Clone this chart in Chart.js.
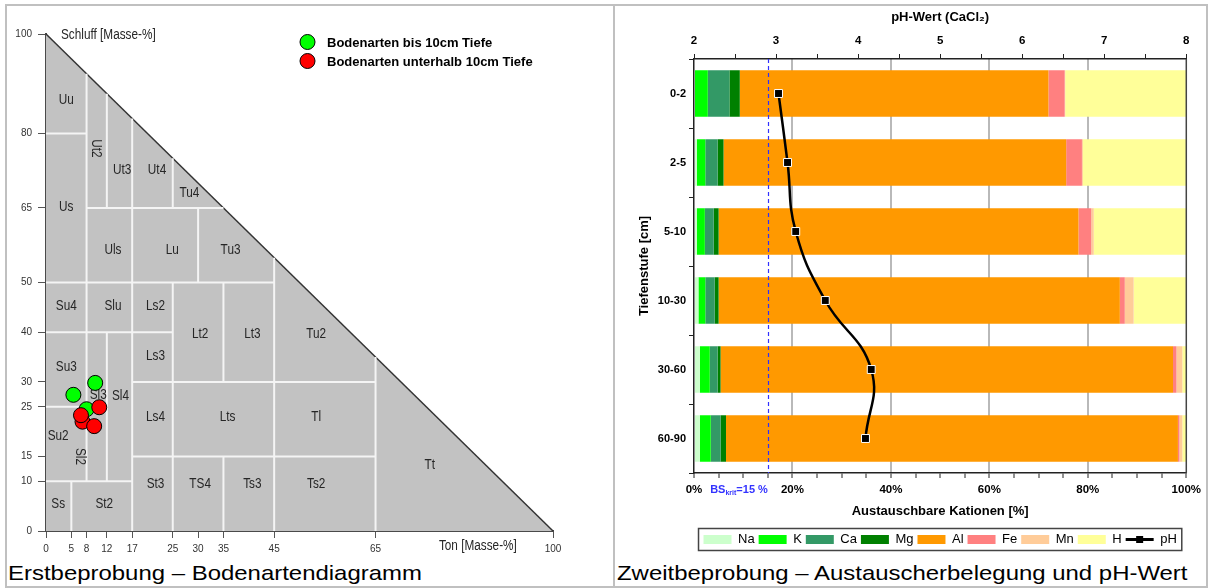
<!DOCTYPE html>
<html lang="de">
<head>
<meta charset="utf-8">
<title>Bodenarten und Austauscherbelegung</title>
<script src="https://cdn.jsdelivr.net/npm/chart.js@4.4.1/dist/chart.umd.min.js"></script>
<style>
  html, body { margin: 0; padding: 0; background: #fff; }
  #page { position: relative; width: 1211px; height: 588px; overflow: hidden; font-family: "Liberation Sans", Arial, sans-serif; }
  #frame { position: absolute; left: 5px; top: 4px; width: 1199px; height: 580px; border: 2px solid #c0c0c0; }
  #divider { position: absolute; left: 613px; top: 4px; width: 2px; height: 584px; background: #c0c0c0; }
  canvas { position: absolute; }
  #soil { left: 7px; top: 6px; }
  #cations { left: 615px; top: 6px; }
  .caption { position: absolute; top: 561px; font-size: 21px; line-height: 24px; color: #000; white-space: nowrap; transform: scaleX(1.14); transform-origin: 0 0; }
</style>
</head>
<body>
<div id="page">
  <div id="frame"></div>
  <div id="divider"></div>
  <canvas id="soil" width="604" height="552"></canvas>
  <canvas id="cations" width="591" height="550"></canvas>
  <div class="caption" style="left:8px">Erstbeprobung – Bodenartendiagramm</div>
  <div class="caption" style="left:617px">Zweitbeprobung – Austauscherbelegung und pH-Wert</div>
</div>
<script>
// ---- left: Bodenartendiagramm (Ton / Schluff in Masse-%) ----
const tonTicks = [0, 5, 8, 12, 17, 25, 30, 35, 45, 65, 100];
const schluffTicks = [0, 10, 15, 25, 30, 40, 50, 65, 80, 100];
const triangleEdge = [{ x: 0, y: 100 }, { x: 100, y: 0 }];
// class boundaries: [ton1, schluff1, ton2, schluff2]
const classLines = [
  [0, 80, 8, 80], [8, 65, 35, 65], [0, 50, 45, 50], [0, 40, 25, 40],
  [17, 30, 65, 30], [0, 25, 8, 25], [17, 15, 65, 15], [0, 10, 17, 10],
  [5, 0, 5, 10], [8, 10, 8, 92], [12, 10, 12, 40], [12, 65, 12, 88],
  [17, 0, 17, 83], [25, 0, 25, 50], [25, 65, 25, 75], [30, 50, 30, 65],
  [35, 0, 35, 15], [35, 30, 35, 50], [45, 0, 45, 55], [65, 0, 65, 35]
];
// class names: [name, ton, schluff, rotated]
const classLabels = [
  ['Uu', 4, 86.7], ['Ut2', 10, 77, true], ['Ut3', 15, 72.6], ['Ut4', 21.9, 72.6], ['Tu4', 28.3, 68],
  ['Us', 4, 65.3], ['Uls', 13.2, 56.5], ['Lu', 24.9, 56.5], ['Tu3', 36.4, 56.5],
  ['Su4', 4, 45.3], ['Slu', 13.2, 45.3], ['Ls2', 21.6, 45.3],
  ['Lt2', 30.4, 39.6], ['Lt3', 40.7, 39.6], ['Tu2', 53.3, 39.6], ['Ls3', 21.6, 35.2], ['Su3', 4, 33],
  ['Sl3', 10.3, 27.4], ['Sl4', 14.7, 27.2], ['Ls4', 21.6, 23], ['Lts', 35.8, 23], ['Tl', 53.3, 23],
  ['Su2', 2.4, 19.1], ['Sl2', 6.7, 15, true], ['Tt', 75.7, 13.3],
  ['St3', 21.6, 9.5], ['TS4', 30.4, 9.5], ['Ts3', 40.7, 9.5], ['Ts2', 53.3, 9.5],
  ['Ss', 2.4, 5.4], ['St2', 11.5, 5.4]
];
const topsoilPoints = [{ x: 5.4, y: 27.4 }, { x: 9.7, y: 29.8 }, { x: 8.0, y: 24.5 }];
const subsoilPoints = [{ x: 7.2, y: 22.0 }, { x: 9.5, y: 21.1 }, { x: 10.5, y: 24.9 }, { x: 6.9, y: 23.3 }];

// ---- right: Austauscherbelegung [%] und pH-Wert ----
const depths = ['0-2', '2-5', '5-10', '10-30', '30-60', '60-90'];
const na = [0.2, 0.6, 0.6, 0.9, 1.2, 1.2];
const k  = [2.6, 1.7, 1.6, 1.4, 2.0, 2.2];
const ca = [4.4, 2.5, 1.8, 1.9, 1.6, 2.0];
const mg = [2.1, 1.2, 1.0, 0.8, 0.6, 1.1];
const al = [62.7, 69.6, 73.1, 81.5, 91.9, 91.8];
const fe = [3.3, 3.2, 2.6, 1.0, 0.7, 0.3];
const mn = [0.1, 0.2, 0.5, 1.8, 1.2, 0.6];
const h  = [24.6, 21.0, 18.8, 10.7, 0.8, 0.8];
const ph = [3.03, 3.14, 3.24, 3.60, 4.16, 4.09];
const bsKrit = 15;

const cationNames = ['Na', 'K', 'Ca', 'Mg', 'Al', 'Fe', 'Mn', 'H'];
const cationColors = ['#ccffcc', '#00ff00', '#339966', '#008000', '#ff9900', '#ff8080', '#ffcc99', '#ffff99'];
const cationSeries = [na, k, ca, mg, al, fe, mn, h];

const FONT = '"Liberation Sans", Arial, sans-serif';
Chart.defaults.font.family = FONT;
Chart.defaults.color = '#000';

function fixedTicks(values) {
  return function (scale) {
    scale.ticks = values.map(function (v) { return { value: v }; });
  };
}

// condensed look for the triangle texts
function narrowText(ctx, text, x, y, rotate, align) {
  ctx.save();
  ctx.translate(x, y);
  if (rotate) ctx.rotate(Math.PI / 2);
  ctx.scale(0.76, 1);
  ctx.font = '15.5px ' + FONT;
  ctx.fillStyle = '#262626';
  ctx.textAlign = align || 'center';
  ctx.textBaseline = 'middle';
  ctx.fillText(text, 0, 0);
  ctx.restore();
}

const boundaryPoints = [];
classLines.forEach(function (s) {
  boundaryPoints.push({ x: s[0], y: s[1] }, { x: s[2], y: s[3] }, { x: s[2], y: null });
});

const soilDecor = {
  id: 'soilDecor',
  afterDatasetDraw(chart, args) {
    if (args.index !== 1) return;
    const xs = chart.scales.x, ys = chart.scales.y, ctx = chart.ctx;
    classLabels.forEach(function (c) {
      narrowText(ctx, c[0], xs.getPixelForValue(c[1]), ys.getPixelForValue(c[2]), c[3]);
    });
  },
  afterDraw(chart) {
    const xs = chart.scales.x, ys = chart.scales.y, ctx = chart.ctx;
    narrowText(ctx, 'Schluff [Masse-%]', xs.getPixelForValue(0) + 15, ys.getPixelForValue(100) + 1, false, 'left');
    narrowText(ctx, 'Ton [Masse-%]', xs.getPixelForValue(77.5), chart.chartArea.bottom + 15, false, 'left');
    // legend of the sample points
    [2, 3].forEach(function (di, row) {
      const ds = chart.data.datasets[di];
      const y = 36 + row * 19;
      ctx.save();
      ctx.beginPath();
      ctx.arc(300.5, y, 7.5, 0, Math.PI * 2);
      ctx.fillStyle = ds.backgroundColor;
      ctx.fill();
      ctx.lineWidth = 1;
      ctx.strokeStyle = '#000';
      ctx.stroke();
      ctx.font = 'bold 13px ' + FONT;
      ctx.fillStyle = '#000';
      ctx.textBaseline = 'middle';
      ctx.fillText(ds.label, 320, y + 1);
      ctx.restore();
    });
  }
};

new Chart(document.getElementById('soil'), {
  type: 'scatter',
  data: {
    datasets: [
      { type: 'line', label: 'Dreieck', data: triangleEdge, fill: 'origin', backgroundColor: '#c2c2c2',
        borderColor: '#333', borderWidth: 1.5, pointRadius: 0, order: 3, clip: false },
      { type: 'line', label: 'Grenzen', data: boundaryPoints, fill: false, spanGaps: false,
        borderColor: '#f4f4f4', borderWidth: 2, pointRadius: 0, order: 2 },
      { label: 'Bodenarten bis 10cm Tiefe', data: topsoilPoints, backgroundColor: '#00ff00',
        borderColor: '#000', borderWidth: 1, pointRadius: 7.5, order: 1, clip: false },
      { label: 'Bodenarten unterhalb 10cm Tiefe', data: subsoilPoints, backgroundColor: '#ff0000',
        borderColor: '#000', borderWidth: 1, pointRadius: 7.5, order: 0, clip: false }
    ]
  },
  options: {
    responsive: false,
    animation: false,
    events: [],
    layout: { padding: { left: 0, top: 28, right: 58, bottom: 0 } },
    scales: {
      x: {
        type: 'linear', min: 0, max: 100, z: 1,
        afterBuildTicks: fixedTicks(tonTicks),
        afterFit(s) { s.height = 27; },
        ticks: { autoSkip: false, maxRotation: 0, padding: 5, color: '#333', font: { size: 10 },
          callback: function (v) { return String(v); } },
        grid: { drawOnChartArea: false, tickLength: 7, tickColor: '#555' },
        border: { color: '#4a4a4a', width: 2 }
      },
      y: {
        type: 'linear', min: 0, max: 100, z: 1,
        afterBuildTicks: fixedTicks(schluffTicks),
        afterFit(s) { s.width = 39; },
        ticks: { autoSkip: false, padding: 6, color: '#333', font: { size: 10 },
          callback: function (v) { return String(v); } },
        grid: { drawOnChartArea: false, tickLength: 8, tickColor: '#555' },
        border: { color: '#4a4a4a', width: 2 }
      }
    },
    plugins: { legend: { display: false }, tooltip: { enabled: false } }
  },
  plugins: [soilDecor]
});

// ---- right chart ----
const PH_INDEX = cationSeries.length;

const cationDecor = {
  id: 'cationDecor',
  beforeDatasetDraw(chart, args) {
    if (args.index !== PH_INDEX) return;
    const a = chart.chartArea, ctx = chart.ctx;
    const xb = Math.round(chart.scales.x.getPixelForValue(bsKrit)) + 0.5;
    ctx.save();
    ctx.strokeStyle = '#3030ff';
    ctx.lineWidth = 1.2;
    ctx.setLineDash([4, 3]);
    ctx.beginPath();
    ctx.moveTo(xb, a.top);
    ctx.lineTo(xb, a.bottom);
    ctx.stroke();
    ctx.setLineDash([]);
    ctx.strokeStyle = '#444';
    ctx.lineWidth = 1.5;
    ctx.beginPath();
    ctx.moveTo(a.right, a.top);
    ctx.lineTo(a.right, a.bottom);
    ctx.stroke();
    ctx.restore();
  },
  afterDraw(chart) {
    const ctx = chart.ctx, a = chart.chartArea;
    // BS_krit label
    const xb = chart.scales.x.getPixelForValue(bsKrit);
    const y = a.bottom + 15.5;
    ctx.save();
    ctx.fillStyle = '#3333ff';
    ctx.textBaseline = 'alphabetic';
    ctx.font = 'bold 11px ' + FONT;
    const w1 = ctx.measureText('BS').width, w3 = ctx.measureText('=15 %').width;
    ctx.font = 'bold 7px ' + FONT;
    const w2 = ctx.measureText('krit').width;
    const x = xb - (w1 + w2 + w3);
    ctx.font = 'bold 11px ' + FONT;
    ctx.fillText('BS', x, y + 4);
    ctx.font = 'bold 7px ' + FONT;
    ctx.fillText('krit', x + w1, y + 6);
    ctx.font = 'bold 11px ' + FONT;
    ctx.fillText('=15 %', x + w1 + w2, y + 4);
    ctx.restore();

    // legend frame and pH symbol
    const boxes = chart.legend.legendHitBoxes;
    const items = chart.legend.legendItems;
    if (!boxes || !boxes.length) return;
    const first = boxes[0], last = boxes[boxes.length - 1];
    ctx.save();
    ctx.strokeStyle = '#444';
    ctx.lineWidth = 1.5;
    ctx.strokeRect(first.left - 5, first.top - 4.5, last.left + last.width - first.left + 10, first.height + 9);
    const pi = items.findIndex(function (it) { return it.datasetIndex === PH_INDEX; });
    const p = boxes[pi];
    const cy = p.top + p.height / 2;
    ctx.strokeStyle = '#000';
    ctx.lineWidth = 3;
    ctx.beginPath();
    ctx.moveTo(p.left, cy);
    ctx.lineTo(p.left + 28, cy);
    ctx.stroke();
    ctx.fillStyle = '#000';
    ctx.fillRect(p.left + 10.5, cy - 3.5, 7, 7);
    ctx.restore();
  }
};

const cationDatasets = cationSeries.map(function (vals, i) {
  return {
    type: 'bar', label: cationNames[i], data: vals, backgroundColor: cationColors[i],
    borderWidth: 0, xAxisID: 'x', yAxisID: 'y', order: 1,
    barPercentage: 0.675, categoryPercentage: 1
  };
});
cationDatasets.push({
  type: 'line', label: 'pH', data: ph, xAxisID: 'x2', yAxisID: 'y', indexAxis: 'y',
  borderColor: '#000', backgroundColor: '#000', borderWidth: 2.5, tension: 0.45, fill: false,
  pointStyle: 'rect', pointRadius: 5.6, pointBackgroundColor: '#000',
  pointBorderColor: '#fff', pointBorderWidth: 1, order: 0, clip: false
});

new Chart(document.getElementById('cations'), {
  type: 'bar',
  data: { labels: depths, datasets: cationDatasets },
  options: {
    indexAxis: 'y',
    responsive: false,
    animation: false,
    events: [],
    layout: { padding: { left: 0, right: 19, top: 0, bottom: 0 } },
    scales: {
      x: {
        type: 'linear', position: 'bottom', stacked: true, min: 0, max: 100,
        afterFit(s) { s.height = 56; },
        ticks: { stepSize: 5, autoSkip: false, maxRotation: 0, padding: 5,
          font: { size: 11.5, weight: 'bold' },
          callback: function (v) { return v % 20 === 0 ? v + '%' : ''; } },
        grid: {
          color: function (c) {
            const v = c.tick ? c.tick.value : 0;
            return (v % 20 === 0 && v > 0 && v < 100) ? '#b9b9b9' : 'rgba(0,0,0,0)';
          },
          lineWidth: 2, tickColor: '#222', tickLength: 5, tickWidth: 1
        },
        border: { color: '#222', width: 1.5 },
        title: { display: true, text: 'Austauschbare Kationen [%]', font: { size: 13, weight: 'bold' },
          padding: { top: 0, bottom: 9.5 } }
      },
      x2: {
        type: 'linear', position: 'top', min: 2, max: 8,
        afterFit(s) { s.height = 53; },
        ticks: { stepSize: 0.5, autoSkip: false, maxRotation: 0, padding: 6,
          font: { size: 11.5, weight: 'bold' },
          callback: function (v) { return Number.isInteger(v) ? String(v) : ''; } },
        grid: { drawOnChartArea: false, tickColor: '#222', tickLength: 5 },
        border: { color: '#222', width: 1.5 },
        title: { display: true, text: 'pH-Wert (CaCl₂)', font: { size: 13, weight: 'bold' },
          padding: { top: 3.5, bottom: 0 } }
      },
      y: {
        type: 'category', stacked: true, z: 1,
        afterFit(s) { s.width = 79; },
        ticks: { padding: 3, font: { size: 11, weight: 'bold' } },
        grid: { drawOnChartArea: false, offset: true, tickColor: '#222', tickLength: 5 },
        border: { color: '#222', width: 1.5 },
        title: { display: true, text: 'Tiefenstufe [cm]', font: { size: 13, weight: 'bold' },
          padding: { top: 21.7, bottom: 0 } }
      }
    },
    plugins: {
      tooltip: { enabled: false },
      legend: {
        position: 'bottom',
        fullSize: false,
        labels: {
          boxWidth: 28, boxHeight: 9, padding: 4, color: '#000', font: { size: 13 },
          sort: function (a, b) { return a.datasetIndex - b.datasetIndex; },
          generateLabels: function (chart) {
            const items = Chart.defaults.plugins.legend.labels.generateLabels(chart);
            items.forEach(function (it) {
              if (it.datasetIndex === PH_INDEX) {
                it.fillStyle = 'rgba(0,0,0,0)';
                it.strokeStyle = 'rgba(0,0,0,0)';
                it.lineWidth = 0;
              }
            });
            return items;
          }
        }
      }
    }
  },
  plugins: [cationDecor]
});
</script>
</body>
</html>
